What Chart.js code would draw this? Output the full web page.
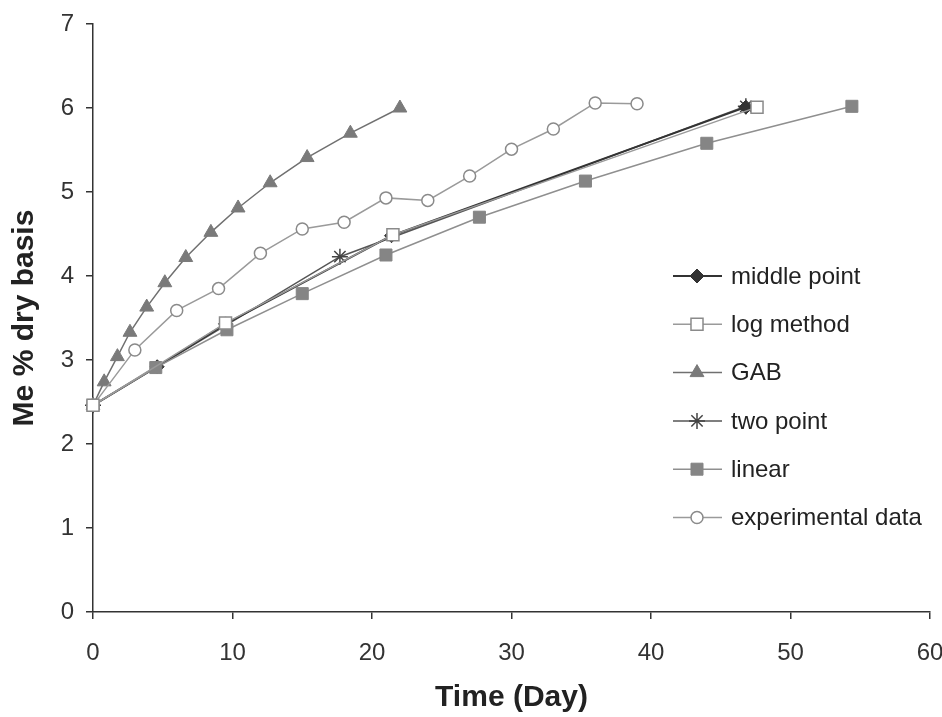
<!DOCTYPE html>
<html>
<head>
<meta charset="utf-8">
<script src="https://cdn.jsdelivr.net/npm/chart.js@4/dist/chart.umd.min.js"></script>
<style>
  html, body { margin: 0; padding: 0; background: #fff; }
  #wrap { width: 942px; height: 717px; }
</style>
</head>
<body>
<div id="wrap"><canvas id="meChart" width="942" height="717"></canvas></div>
<script>
// Series (Time in days, Me % dry basis)
const seriesNames = ['middle point', 'log method', 'GAB', 'two point', 'linear', 'experimental data'];

const middleX = [0, 4.6, 9.5, 21.4, 46.8];
const middleY = [2.46, 2.92, 3.43, 4.48, 6.01];

const logX = [0, 9.5, 21.5, 47.6];
const logY = [2.46, 3.44, 4.49, 6.01];

const gabX = [0, 0.8, 1.75, 2.65, 3.85, 5.15, 6.65, 8.45, 10.4, 12.7, 15.35, 18.45, 22.0];
const gabY = [2.46, 2.74, 3.04, 3.33, 3.63, 3.92, 4.22, 4.52, 4.81, 5.11, 5.41, 5.70, 6.0];

const twoX = [0, 17.7, 46.8];
const twoY = [2.46, 4.23, 6.02];

const linearX = [0, 4.5, 9.6, 15.0, 21.0, 27.7, 35.3, 44.0, 54.4];
const linearY = [2.46, 2.91, 3.36, 3.79, 4.25, 4.70, 5.13, 5.58, 6.02];

const expX = [0, 3, 6, 9, 12, 15, 18, 21, 24, 27, 30, 33, 36, 39];
const expY = [2.46, 3.12, 3.59, 3.85, 4.27, 4.56, 4.64, 4.93, 4.90, 5.19, 5.51, 5.75, 6.06, 6.05];

const xTicks = [0, 10, 20, 30, 40, 50, 60];
const yTicks = [0, 1, 2, 3, 4, 5, 6, 7];

function pts(xs, ys) {
    return xs.map((x, i) => ({ x: x, y: ys[i] }));
}

const fontFamily = '"Liberation Sans", Arial, sans-serif';

// Legend drawn inside the plot, lower right
const insideLegend = {
    id: 'insideLegend',
    afterDraw(chart) {
        const ctx = chart.ctx;
        const rowTop = 276;
        const rowGap = 48.3;
        ctx.save();
        chart.data.datasets.forEach((ds, i) => {
            const y = rowTop + i * rowGap;
            ctx.strokeStyle = ds.borderColor;
            ctx.lineWidth = ds.borderWidth;
            ctx.beginPath();
            ctx.moveTo(673, y);
            ctx.lineTo(722, y);
            ctx.stroke();
            ctx.fillStyle = ds.pointBackgroundColor;
            ctx.strokeStyle = ds.pointBorderColor;
            ctx.lineWidth = ds.pointBorderWidth;
            Chart.helpers.drawPoint(ctx, {
                pointStyle: ds.pointStyle,
                radius: ds.pointRadius,
                rotation: 0,
                borderWidth: ds.pointBorderWidth
            }, 697, y);
            ctx.fillStyle = '#222';
            ctx.font = '24px ' + fontFamily;
            ctx.textBaseline = 'middle';
            ctx.textAlign = 'left';
            ctx.fillText(ds.label, 731, y + 1);
        });
        ctx.restore();
    }
};

const tickFont = { family: fontFamily, size: 24 };

new Chart(document.getElementById('meChart'), {
    type: 'scatter',
    data: {
        datasets: [
            {
                label: seriesNames[0],
                data: pts(middleX, middleY),
                showLine: true,
                clip: false,
                borderColor: '#333333',
                borderWidth: 2,
                pointStyle: 'rectRot',
                pointRadius: 7,
                pointBackgroundColor: '#333333',
                pointBorderColor: '#333333',
                pointBorderWidth: 1,
                order: 4
            },
            {
                label: seriesNames[1],
                data: pts(logX, logY),
                showLine: true,
                clip: false,
                borderColor: '#9a9a9a',
                borderWidth: 1.5,
                pointStyle: 'rect',
                pointRadius: 8.5,
                pointBackgroundColor: '#ffffff',
                pointBorderColor: '#8a8a8a',
                pointBorderWidth: 1.5,
                order: 0
            },
            {
                label: seriesNames[2],
                data: pts(gabX, gabY),
                showLine: true,
                clip: false,
                borderColor: '#707070',
                borderWidth: 1.5,
                pointStyle: 'triangle',
                pointRadius: 8,
                pointBackgroundColor: '#7a7a7a',
                pointBorderColor: '#7a7a7a',
                pointBorderWidth: 1,
                order: 2
            },
            {
                label: seriesNames[3],
                data: pts(twoX, twoY),
                showLine: true,
                clip: false,
                borderColor: '#555555',
                borderWidth: 1.5,
                pointStyle: 'star',
                pointRadius: 8,
                pointBackgroundColor: '#444444',
                pointBorderColor: '#444444',
                pointBorderWidth: 1.5,
                order: 5
            },
            {
                label: seriesNames[4],
                data: pts(linearX, linearY),
                showLine: true,
                clip: false,
                borderColor: '#8f8f8f',
                borderWidth: 1.5,
                pointStyle: 'rect',
                pointRadius: 8.5,
                pointBackgroundColor: '#858585',
                pointBorderColor: '#858585',
                pointBorderWidth: 1,
                order: 3
            },
            {
                label: seriesNames[5],
                data: pts(expX, expY),
                showLine: true,
                clip: false,
                borderColor: '#9a9a9a',
                borderWidth: 1.5,
                pointStyle: 'circle',
                pointRadius: 6,
                pointBackgroundColor: '#ffffff',
                pointBorderColor: '#8a8a8a',
                pointBorderWidth: 1.5,
                order: 1
            }
        ]
    },
    options: {
        responsive: false,
        animation: false,
        layout: { padding: { left: 0, top: 24, right: 12, bottom: 0 } },
        plugins: {
            legend: { display: false },
            tooltip: { enabled: false }
        },
        scales: {
            x: {
                type: 'linear',
                min: 0,
                max: 60,
                afterFit: s => { s.height = 105; s.paddingLeft = 0; s.paddingRight = 0; },
                afterBuildTicks: s => { s.ticks = xTicks.map(v => ({ value: v })); },
                border: { color: '#333', width: 1.5 },
                grid: { display: true, drawOnChartArea: false, drawTicks: true, tickLength: 7, color: '#333', lineWidth: 1.5 },
                ticks: { font: tickFont, color: '#333', padding: 20, maxRotation: 0 },
                title: { display: true, text: 'Time (Day)', font: { family: fontFamily, size: 30, weight: 'bold' }, color: '#222', padding: { top: 0, bottom: 1 } }
            },
            y: {
                type: 'linear',
                min: 0,
                max: 7,
                afterFit: s => { s.width = 93; s.paddingTop = 0; s.paddingBottom = 0; },
                afterBuildTicks: s => { s.ticks = yTicks.map(v => ({ value: v })); },
                border: { color: '#333', width: 1.5 },
                grid: { display: true, drawOnChartArea: false, drawTicks: true, tickLength: 7, color: '#333', lineWidth: 1.5 },
                ticks: { font: tickFont, color: '#333', padding: 12 },
                title: { display: true, text: 'Me % dry basis', font: { family: fontFamily, size: 30, weight: 'bold' }, color: '#222', padding: { top: 7, bottom: 0 } }
            }
        }
    },
    plugins: [insideLegend]
});
</script>
</body>
</html>
